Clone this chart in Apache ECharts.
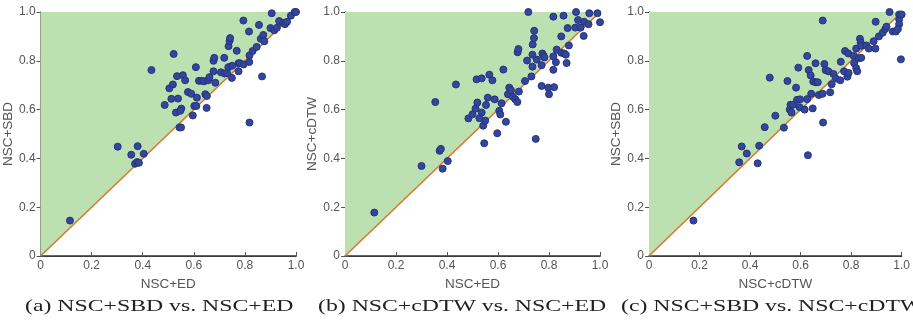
<!DOCTYPE html>
<html>
<head>
<meta charset="utf-8">
<script src="https://cdn.jsdelivr.net/npm/echarts@6/dist/echarts.min.js"></script>
<style>
  html, body { margin: 0; padding: 0; background: #fff; }
  #chart { width: 913px; height: 320px; }
</style>
</head>
<body>
<div id="chart"></div>
<script>
const diagonal = [[0, 0], [1, 1]];

// (a) NSC+SBD (y) vs NSC+ED (x)
const sbdVsEd = [
  [0.115, 0.145], [0.302, 0.448], [0.355, 0.415], [0.37, 0.378], [0.378, 0.385], [0.385, 0.382],
  [0.38, 0.45], [0.404, 0.419], [0.434, 0.762], [0.486, 0.619], [0.504, 0.687], [0.512, 0.644],
  [0.518, 0.703], [0.521, 0.828], [0.53, 0.588], [0.534, 0.737], [0.538, 0.645], [0.544, 0.527],
  [0.55, 0.527], [0.551, 0.604], [0.547, 0.595], [0.557, 0.741], [0.566, 0.72], [0.577, 0.672],
  [0.59, 0.665], [0.596, 0.576], [0.602, 0.615], [0.61, 0.615], [0.608, 0.774], [0.612, 0.649],
  [0.62, 0.718], [0.63, 0.718], [0.64, 0.716], [0.645, 0.663], [0.651, 0.656], [0.65, 0.607],
  [0.656, 0.72], [0.661, 0.733], [0.677, 0.757], [0.677, 0.80], [0.68, 0.812], [0.684, 0.71],
  [0.706, 0.753], [0.719, 0.812], [0.72, 0.748], [0.73, 0.75], [0.736, 0.86], [0.735, 0.774],
  [0.75, 0.78], [0.74, 0.882], [0.742, 0.893], [0.749, 0.73], [0.768, 0.841], [0.775, 0.757],
  [0.775, 0.79], [0.78, 0.79], [0.794, 0.965], [0.795, 0.785], [0.816, 0.92], [0.817, 0.795],
  [0.818, 0.822], [0.818, 0.547], [0.83, 0.84], [0.846, 0.857], [0.855, 0.947], [0.862, 0.89],
  [0.867, 0.736], [0.872, 0.906], [0.876, 0.88], [0.9, 0.934], [0.905, 0.995], [0.915, 0.925],
  [0.925, 0.935], [0.934, 0.963], [0.95, 0.955], [0.957, 0.95], [0.965, 0.96], [0.98, 0.985],
  [0.995, 1.0], [1.0, 1.0]
];

// (b) NSC+cDTW (y) vs NSC+ED (x)
const cdtwVsEd = [
  [0.115, 0.178], [0.30, 0.369], [0.354, 0.631], [0.371, 0.431], [0.376, 0.439], [0.383, 0.358],
  [0.403, 0.389], [0.435, 0.703], [0.484, 0.564], [0.5, 0.581], [0.512, 0.604], [0.516, 0.724],
  [0.519, 0.629], [0.527, 0.565], [0.536, 0.728], [0.536, 0.588], [0.542, 0.534], [0.546, 0.462],
  [0.55, 0.555], [0.553, 0.619], [0.56, 0.649], [0.566, 0.743], [0.578, 0.72], [0.587, 0.642],
  [0.597, 0.503], [0.605, 0.595], [0.609, 0.58], [0.614, 0.626], [0.621, 0.764], [0.631, 0.55],
  [0.639, 0.663], [0.644, 0.69], [0.651, 0.679], [0.659, 0.652], [0.668, 0.642], [0.676, 0.631],
  [0.677, 0.835], [0.68, 0.848], [0.682, 0.674], [0.706, 0.717], [0.714, 0.801], [0.719, 1.0],
  [0.731, 0.736], [0.735, 0.825], [0.735, 0.776], [0.736, 0.867], [0.741, 0.893], [0.742, 0.923],
  [0.748, 0.48], [0.752, 0.805], [0.771, 0.782], [0.771, 0.697], [0.774, 0.83], [0.778, 0.822],
  [0.782, 0.814], [0.797, 0.69], [0.8, 0.663], [0.817, 0.981], [0.817, 0.818], [0.817, 0.763],
  [0.82, 0.692], [0.827, 0.794], [0.83, 0.846], [0.848, 0.9], [0.848, 0.833], [0.857, 0.985],
  [0.86, 0.83], [0.866, 0.825], [0.869, 0.791], [0.873, 0.934], [0.878, 0.863], [0.903, 0.936],
  [0.906, 1.0], [0.914, 0.967], [0.924, 0.936], [0.936, 0.902], [0.938, 0.96], [0.955, 0.95],
  [0.958, 0.995], [0.99, 0.995], [1.0, 0.958]
];

// (c) NSC+SBD (y) vs NSC+cDTW (x)
const sbdVsCdtw = [
  [0.176, 0.145], [0.357, 0.384], [0.367, 0.449], [0.387, 0.42], [0.43, 0.38], [0.436, 0.452],
  [0.458, 0.528], [0.478, 0.731], [0.5, 0.575], [0.534, 0.526], [0.548, 0.717], [0.557, 0.6],
  [0.56, 0.62], [0.564, 0.588], [0.57, 0.62], [0.582, 0.69], [0.586, 0.64], [0.598, 0.642],
  [0.591, 0.772], [0.596, 0.61], [0.616, 0.6], [0.626, 0.82], [0.626, 0.643], [0.629, 0.413],
  [0.632, 0.762], [0.64, 0.74], [0.642, 0.665], [0.648, 0.605], [0.65, 0.715], [0.66, 0.712],
  [0.668, 0.712], [0.659, 0.79], [0.672, 0.66], [0.687, 0.665], [0.6875, 0.965], [0.689, 0.547],
  [0.694, 0.787], [0.699, 0.762], [0.71, 0.757], [0.717, 0.671], [0.723, 0.704], [0.73, 0.746],
  [0.74, 0.727], [0.757, 0.72], [0.759, 0.796], [0.772, 0.757], [0.776, 0.84], [0.785, 0.735],
  [0.789, 0.83], [0.79, 0.75], [0.81, 0.82], [0.812, 0.79], [0.82, 0.85], [0.82, 0.77],
  [0.824, 0.757], [0.83, 0.81], [0.835, 0.89], [0.838, 0.875], [0.84, 0.862], [0.84, 0.812],
  [0.86, 0.863], [0.87, 0.85], [0.889, 0.88], [0.896, 0.85], [0.897, 0.96], [0.91, 0.9],
  [0.925, 0.915], [0.935, 0.93], [0.94, 0.94], [0.952, 1.0], [0.965, 0.92], [0.977, 0.92],
  [0.99, 0.97], [0.99, 0.95], [0.985, 0.93], [0.99, 0.99], [1.0, 0.99], [0.997, 0.806]
];

const panels = [
  { data: sbdVsEd, xName: "NSC+ED", yName: "NSC+SBD", caption: "(a) NSC+SBD vs. NSC+ED", left: 40, width: 256, capLeft: 25 },
  { data: cdtwVsEd, xName: "NSC+ED", yName: "NSC+cDTW", caption: "(b) NSC+cDTW vs. NSC+ED", left: 345, width: 255, capLeft: 318 },
  { data: sbdVsCdtw, xName: "NSC+cDTW", yName: "NSC+SBD", caption: "(c) NSC+SBD vs. NSC+cDTW", left: 649, width: 256, capLeft: 621 },
];

const labelFmt = (v) => (v === 0 ? "0" : v.toFixed(1));
const axisFont = { color: "#555", fontSize: 12, fontFamily: "Liberation Sans" };

const grid = [], xAxis = [], yAxis = [], series = [], graphic = [];

panels.forEach((p, i) => {
  grid.push({ left: p.left, width: p.width, top: 12, height: 244 });
  const base = { type: "value", min: 0, max: 1, interval: 0.2, gridIndex: i, splitLine: { show: false } };
  xAxis.push({
    ...base,
    position: "bottom",
    name: p.xName,
    nameLocation: "middle",
    nameGap: 16,
    nameTextStyle: { ...axisFont, fontSize: 13.5 },
    axisLine: { lineStyle: { color: "#555", width: 1 } },
    axisTick: { inside: true, length: 4, lineStyle: { color: "#555" } },
    axisLabel: { ...axisFont, margin: 4, formatter: labelFmt },
  });
  xAxis.push({
    ...base,
    position: "top",
    axisLine: { lineStyle: { color: "#333", width: 1.5 } },
    axisTick: { show: false },
    axisLabel: { show: false },
  });
  yAxis.push({
    ...base,
    position: "left",
    name: p.yName,
    nameLocation: "middle",
    nameGap: 21,
    nameTextStyle: { ...axisFont, fontSize: 13.5 },
    axisLine: { lineStyle: { color: "#444", width: 1 } },
    axisTick: { inside: true, length: 4, lineStyle: { color: "#555" } },
    axisLabel: { ...axisFont, margin: 5, formatter: labelFmt },
  });
  yAxis.push({
    ...base,
    position: "right",
    axisLine: { lineStyle: { color: "#777", width: 1 } },
    axisTick: { inside: true, length: 4, lineStyle: { color: "#555" } },
    axisLabel: { show: false },
  });
  series.push({
    type: "line",
    xAxisIndex: i * 2,
    yAxisIndex: i * 2,
    data: diagonal,
    symbol: "none",
    lineStyle: { color: "#d2782a", width: 1.5 },
    areaStyle: { origin: "end", color: "#bde0b0", opacity: 1 },
    z: 1,
  });
  series.push({
    type: "scatter",
    xAxisIndex: i * 2,
    yAxisIndex: i * 2,
    data: p.data,
    symbolSize: 7,
    itemStyle: { color: "#34469b", borderColor: "#26337e", borderWidth: 1, opacity: 1 },
    z: 3,
  });
  // caption, stretched sideways like the reference
  graphic.push({
    type: "text",
    x: p.capLeft,
    y: 307,
    scaleX: 1.44,
    style: {
      text: p.caption,
      font: "16.5px 'Liberation Serif'",
      fill: "#222",
      textAlign: "left",
      textVerticalAlign: "middle",
    },
  });
});

const chart = echarts.init(document.getElementById("chart"));
chart.setOption({ animation: false, grid, xAxis, yAxis, series, graphic });
</script>
</body>
</html>
